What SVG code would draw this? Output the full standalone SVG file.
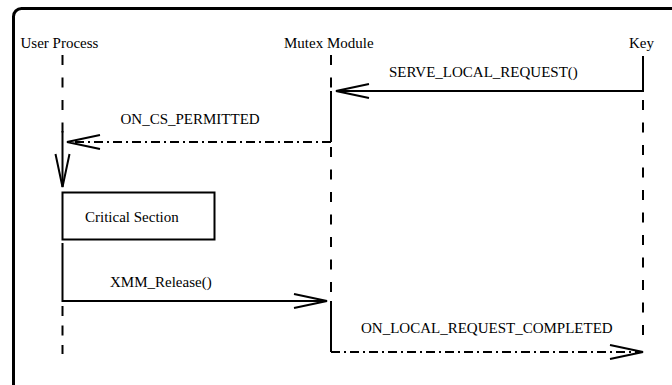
<svg xmlns="http://www.w3.org/2000/svg" width="672" height="385" viewBox="0 0 672 385">
<style>
  .lbl { font-family: "Liberation Serif", "Times New Roman", serif; font-size: 15px; fill: #000; }
  .life { stroke: #000; stroke-width: 2; fill: none; stroke-dasharray: 10 12.5; }
  .solid { stroke: #000; stroke-width: 2; fill: none; }
  .dashdot { stroke: #000; stroke-width: 2; fill: none; stroke-dasharray: 9 4 2 4; }
  .frame { stroke: #000; stroke-width: 3; fill: none; }
  .box { stroke: #000; stroke-width: 2; fill: #fff; }
</style>
<defs>
  <marker id="open" markerUnits="userSpaceOnUse" markerWidth="40" markerHeight="20" viewBox="-36 -10 40 20" refX="0" refY="0" orient="auto" overflow="visible">
    <path d="M-33,-7 L0,0 L-33,7" fill="none" stroke="#000" stroke-width="2"/>
  </marker>
</defs>
<rect class="frame" x="13.5" y="8.5" width="700" height="420" rx="8"/>

<g id="user-process">
  <text class="lbl" x="20.5" y="48">User Process</text>
  <path class="life" d="M62.5,55 V133"/>
  <path class="life" style="stroke-dasharray:10 9.5" d="M62.5,306 V354"/>
</g>
<g id="mutex-module">
  <text class="lbl" x="284" y="48">Mutex Module</text>
  <path class="life" d="M331,55 V91"/>
  <path class="life" d="M331,147 V297"/>
</g>
<g id="key">
  <text class="lbl" x="629" y="48">Key</text>
  <path class="life" d="M643,100 V342"/>
</g>
<g id="critical-section">
  <rect class="box" x="62.5" y="192.5" width="152" height="47"/>
  <text class="lbl" x="85" y="222">Critical Section</text>
</g>

<g id="connectors">
  <path class="solid" d="M643,56 V91 H336" marker-end="url(#open)"/>
  <text class="lbl" x="389" y="77">SERVE_LOCAL_REQUEST()</text>
  <path class="solid" d="M331,91 V142"/>
  <path class="dashdot" d="M331,142 H67" marker-end="url(#open)"/>
  <text class="lbl" x="120.5" y="124">ON_CS_PERMITTED</text>
  <path class="solid" d="M62.5,131 V187" marker-end="url(#open)"/>
  <path class="solid" d="M62.5,243 V301 H327" marker-end="url(#open)"/>
  <text class="lbl" x="110" y="287">XMM_Release()</text>
  <path class="solid" d="M331,301 V352"/>
  <path class="dashdot" d="M331,352 H643" marker-end="url(#open)"/>
  <text class="lbl" x="361" y="333">ON_LOCAL_REQUEST_COMPLETED</text>
</g>
</svg>
